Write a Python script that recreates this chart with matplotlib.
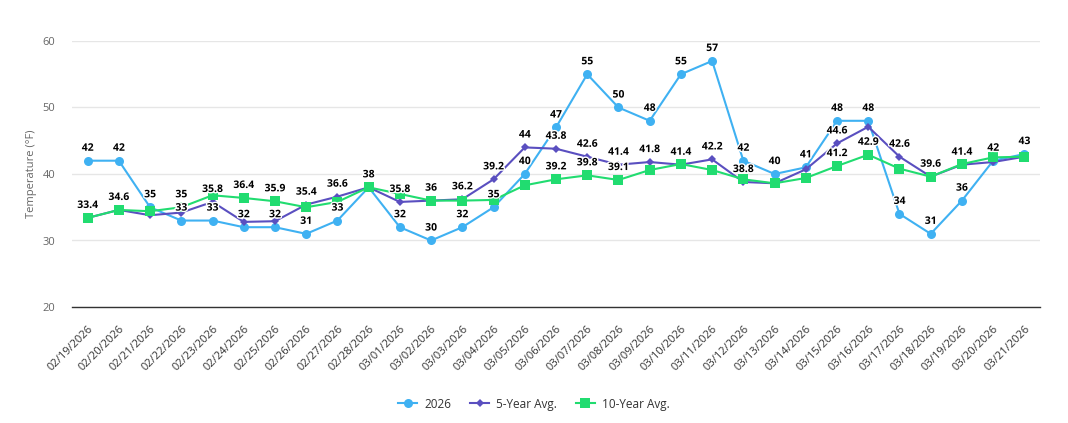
import matplotlib
matplotlib.use("Agg")
import matplotlib.pyplot as plt
import matplotlib.patheffects as pe
from matplotlib.transforms import Bbox

### DATA
dates = ["02/19/2026", "02/20/2026", "02/21/2026", "02/22/2026", "02/23/2026",
         "02/24/2026", "02/25/2026", "02/26/2026", "02/27/2026", "02/28/2026",
         "03/01/2026", "03/02/2026", "03/03/2026", "03/04/2026", "03/05/2026",
         "03/06/2026", "03/07/2026", "03/08/2026", "03/09/2026", "03/10/2026",
         "03/11/2026", "03/12/2026", "03/13/2026", "03/14/2026", "03/15/2026",
         "03/16/2026", "03/17/2026", "03/18/2026", "03/19/2026", "03/20/2026",
         "03/21/2026"]

temp_2026 = [42, 42, 35, 33, 33, 32, 32, 31, 33, 38, 32, 30, 32, 35, 40, 47,
             55, 50, 48, 55, 57, 42, 40, 41, 48, 48, 34, 31, 36, 42, 43]
avg_5yr = [33.4, 34.6, 33.8, 34.2, 35.8, 32.8, 32.9, 35.4, 36.6, 38, 35.8, 36,
           36.2, 39.2, 44, 43.8, 42.6, 41.4, 41.8, 41.4, 42.2, 38.8, 38.6, 40.7,
           44.6, 47.1, 42.6, 39.6, 41.4, 41.8, 42.6]
avg_10yr = [33.4, 34.6, 34.4, 35.0, 36.8, 36.4, 35.9, 35.0, 35.8, 38, 37.0, 36.0,
            36.0, 36.1, 38.3, 39.2, 39.8, 39.1, 40.6, 41.5, 40.6, 39.2, 38.6, 39.4,
            41.2, 42.9, 40.8, 39.6, 41.5, 42.5, 42.6]

y_ticks = [20, 30, 40, 50, 60]

### PLOT
plt.rcParams["font.family"] = ["Open Sans", "DejaVu Sans"]

fig = plt.figure(figsize=(10.68, 4.23), dpi=100)
ax = fig.add_axes([72 / 1068, 1 - 307 / 423, 968 / 1068, 266 / 423])

x = list(range(len(dates)))
series = [
    (temp_2026, "2026", "#3fb1f2", "o", 6.5),
    (avg_5yr, "5-Year Avg.", "#5a4fc0", "D", 4.5),
    (avg_10yr, "10-Year Avg.", "#21dc70", "s", 6.5),
]

for vals, name, color, marker, ms in series:
    ax.plot(x, vals, color=color, lw=1.5, marker=marker, markersize=ms,
            markeredgewidth=0, label=name, zorder=3)

ax.set_xlim(-0.5, len(dates) - 0.5)
ax.set_ylim(20, 60)
ax.set_yticks(y_ticks)
ax.set_xticks(x)
ax.set_xticklabels(dates, rotation=45, ha="right", rotation_mode="anchor",
                   fontsize=8, color="#333333")
ax.tick_params(axis="x", length=0, pad=12)
ax.tick_params(axis="y", length=0, pad=12, labelsize=8, labelcolor="#666666")
ax.grid(axis="y", color="#e6e6e6", lw=1)
ax.set_axisbelow(True)
for s in ["top", "right", "left"]:
    ax.spines[s].set_visible(False)
ax.spines["bottom"].set_color("#333333")
ax.spines["bottom"].set_linewidth(1)
ax.set_ylabel("Temperature (°F)", fontsize=8, color="#666666", labelpad=4)

# data labels, drop the ones that overlap (like highcharts does)
labels = []
for vals, name, color, marker, ms in series:
    for xi, v in zip(x, vals):
        t = ax.annotate(f"{v:g}", (xi, v), xytext=(0, 5), textcoords="offset points",
                        ha="center", va="bottom", fontsize=7.5, fontweight="bold",
                        color="black", zorder=5,
                        path_effects=[pe.withStroke(linewidth=2, foreground="white")])
        labels.append(t)

fig.canvas.draw()
renderer = fig.canvas.get_renderer()
shown = []
for t in labels:
    bb = t.get_window_extent(renderer)
    cy = (bb.y0 + bb.y1) / 2
    bb = Bbox([[bb.x0, cy - 6.3], [bb.x1, cy + 6.3]])
    if any(bb.overlaps(o) for o in shown):
        t.remove()
    else:
        shown.append(bb)

fig.legend(loc="center", bbox_to_anchor=(0.5, 1 - 404 / 423), ncol=3,
           frameon=False, fontsize=8.5, handlelength=1.6, columnspacing=1.6,
           handletextpad=0.6, labelcolor="#333333")

fig.savefig("out.png", dpi=100)
